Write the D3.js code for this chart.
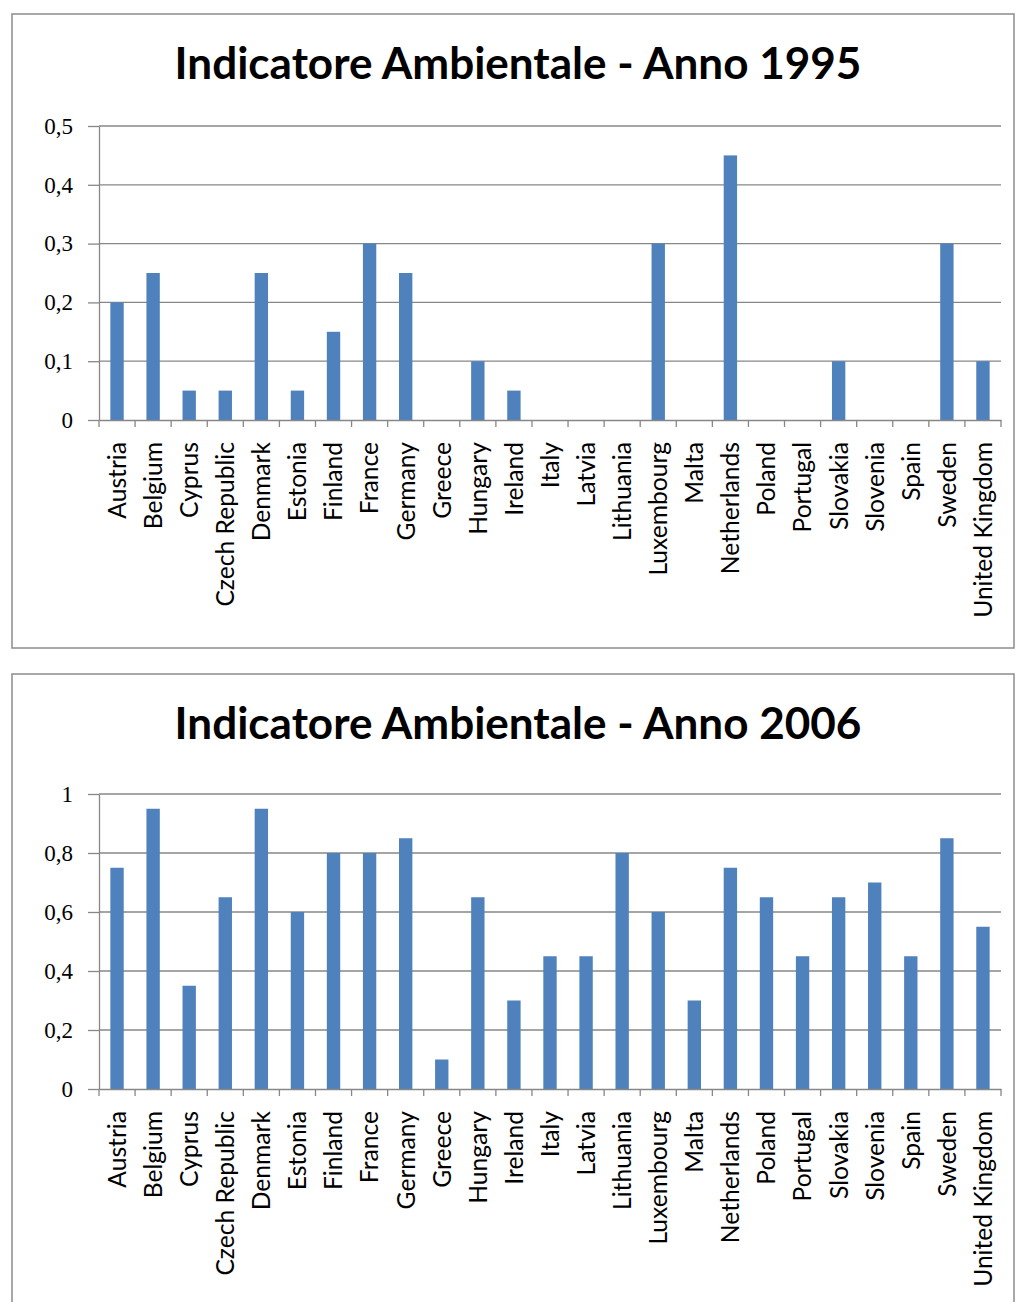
<!DOCTYPE html>
<html>
<head>
<meta charset="utf-8">
<script src="https://cdn.jsdelivr.net/npm/d3@7"></script>
<style>
  body { margin: 0; background: #ffffff; }
</style>
</head>
<body>
<svg id="chart" width="1016" height="1302"></svg>
<script>
// Countries shown on both charts
const countries = [
  "Austria", "Belgium", "Cyprus", "Czech Republic", "Denmark", "Estonia",
  "Finland", "France", "Germany", "Greece", "Hungary", "Ireland", "Italy",
  "Latvia", "Lithuania", "Luxembourg", "Malta", "Netherlands", "Poland",
  "Portugal", "Slovakia", "Slovenia", "Spain", "Sweden", "United Kingdom"
];

// Environmental indicator, 1995
const values1995 = [
  0.20, 0.25, 0.05, 0.05, 0.25, 0.05,
  0.15, 0.30, 0.25, 0.00, 0.10, 0.05, 0.00,
  0.00, 0.00, 0.30, 0.00, 0.45, 0.00,
  0.00, 0.10, 0.00, 0.00, 0.30, 0.10
];

// Environmental indicator, 2006
const values2006 = [
  0.75, 0.95, 0.35, 0.65, 0.95, 0.60,
  0.80, 0.80, 0.85, 0.10, 0.65, 0.30, 0.45,
  0.45, 0.80, 0.60, 0.30, 0.75, 0.65,
  0.45, 0.65, 0.70, 0.45, 0.85, 0.55
];

// Value axis ticks and their labels
const ticks1995 = [0, 0.1, 0.2, 0.3, 0.4, 0.5];
const tickLabels1995 = ["0", "0,1", "0,2", "0,3", "0,4", "0,5"];
const ticks2006 = [0, 0.2, 0.4, 0.6, 0.8, 1];
const tickLabels2006 = ["0", "0,2", "0,4", "0,6", "0,8", "1"];

const titles = ["Indicatore Ambientale - Anno 1995", "Indicatore Ambientale - Anno 2006"];

const BAR = "#4f81bd";
const GRID = "#878787";
const FRAME = "#8c8c8c";

const svg = d3.select("#chart");

// Helper: measure a string with a given font
function measure(text, font, size, weight) {
  const t = svg.append("text")
    .attr("font-family", font).attr("font-size", size)
    .attr("font-weight", weight).text(text);
  const w = t.node().getComputedTextLength();
  t.remove();
  return w;
}

const titleFont = "Lato, 'Open Sans', sans-serif";
const catFont = "Lato, 'Open Sans', sans-serif";
const numFont = "'Liberation Serif', 'DejaVu Serif', serif";

const titleSize = 40 * 687 / measure(titles[0], titleFont, 40, "bold");
const catSize = 20 * 176 / measure("United Kingdom", catFont, 20, "normal");

const panels = [
  { title: titles[0], values: values1995, ticks: ticks1995, labels: tickLabels1995, max: 0.5,
    frame: { x: 12, y: 14, w: 1002, h: 634 },
    plot: { left: 99, right: 1001, top: 126, bottom: 420 }, titleY: 79 },
  { title: titles[1], values: values2006, ticks: ticks2006, labels: tickLabels2006, max: 1,
    frame: { x: 12, y: 674, w: 1002, h: 660 },
    plot: { left: 99, right: 1001, top: 794, bottom: 1089 }, titleY: 739 }
];

panels.forEach(p => {
  const g = svg.append("g");

  // chart frame
  g.append("rect")
    .attr("x", p.frame.x).attr("y", p.frame.y)
    .attr("width", p.frame.w).attr("height", p.frame.h)
    .attr("fill", "#ffffff").attr("stroke", FRAME).attr("stroke-width", 1.5);

  // title
  g.append("text")
    .attr("x", 518).attr("y", p.titleY)
    .attr("text-anchor", "middle")
    .attr("font-family", titleFont).attr("font-weight", "bold")
    .attr("font-size", titleSize).attr("fill", "#000")
    .text(p.title);

  const x = d3.scaleBand().domain(countries).range([p.plot.left, p.plot.right]).padding(0);
  const y = d3.scaleLinear().domain([0, p.max]).range([p.plot.bottom, p.plot.top]);

  // horizontal gridlines
  g.append("g").selectAll("line").data(p.ticks.filter(t => t > 0)).join("line")
    .attr("x1", p.plot.left).attr("x2", p.plot.right)
    .attr("y1", d => y(d)).attr("y2", d => y(d))
    .attr("stroke", GRID).attr("stroke-width", 1.3);

  // bars (gap width ~170%)
  const bw = x.bandwidth() / 2.7;
  g.append("g").selectAll("rect").data(p.values).join("rect")
    .attr("x", (d, i) => x(countries[i]) + (x.bandwidth() - bw) / 2)
    .attr("width", bw)
    .attr("y", d => y(d))
    .attr("height", d => y(0) - y(d))
    .attr("fill", BAR);

  // value axis
  const labelMap = new Map(p.ticks.map((t, i) => [t, p.labels[i]]));
  const yAxis = g.append("g")
    .attr("transform", `translate(${p.plot.left},0)`)
    .call(d3.axisLeft(y).tickValues(p.ticks).tickSize(11).tickSizeOuter(0)
      .tickPadding(15).tickFormat(d => labelMap.get(d)));
  yAxis.select(".domain").attr("stroke", GRID).attr("stroke-width", 1.3);
  yAxis.selectAll(".tick line").attr("stroke", GRID).attr("stroke-width", 1.3);
  yAxis.selectAll(".tick text")
    .attr("font-family", numFont).attr("font-size", 23).attr("fill", "#000");

  // category axis
  const xAxis = g.append("g")
    .attr("transform", `translate(0,${p.plot.bottom})`)
    .call(d3.axisBottom(x).tickSize(0).tickSizeOuter(0));
  xAxis.select(".domain").attr("stroke", GRID).attr("stroke-width", 1.3);
  xAxis.selectAll(".tick text")
    .attr("transform", "rotate(-90)")
    .attr("text-anchor", "end")
    .attr("x", -22).attr("y", 0).attr("dy", "0.36em")
    .attr("font-family", catFont).attr("font-size", catSize).attr("fill", "#000");

  // tick marks between categories
  const edges = countries.map(c => x(c)).concat([p.plot.right]);
  g.append("g").selectAll("line").data(edges).join("line")
    .attr("x1", d => d).attr("x2", d => d)
    .attr("y1", p.plot.bottom).attr("y2", p.plot.bottom + 7)
    .attr("stroke", GRID).attr("stroke-width", 1.3);
});
</script>
</body>
</html>
